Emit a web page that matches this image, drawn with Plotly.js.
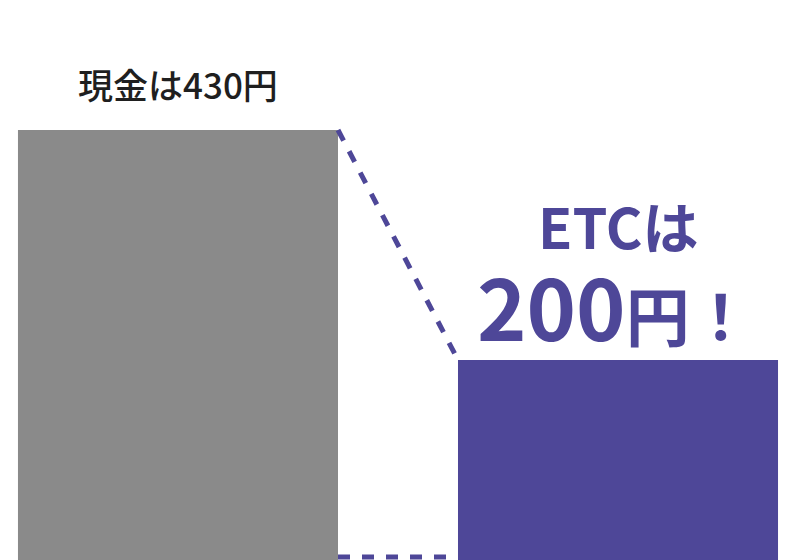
<!DOCTYPE html>
<html>
<head>
<meta charset="utf-8">
<script src="https://cdn.plot.ly/plotly-3.0.1.min.js"></script>
<style>
  html, body { margin: 0; padding: 0; background: #ffffff; }
  #chart { width: 800px; height: 560px; }
</style>
</head>
<body>
<div id="chart"></div>
<script>
// data
const categories = ['現金', 'ETC'];
const fares = [430, 200];
const barColors = ['#8a8a8a', '#4e4798'];
const labelTop = ['現金は430円', 'ETCは'];
const bigNumber = '200';
const bigUnit = '円';
const bigMark = '！';

const purple = '#4e4798';
const barWidth = 0.7273;

// connector from top-right of cash bar to top-left of ETC bar
const leftEdge = 0 + barWidth / 2;
const rightEdge = 1 - barWidth / 2;

var data = [
  {
    x: categories.map((c, i) => i),
    y: fares,
    type: 'bar',
    width: barWidth,
    marker: { color: barColors },
    hoverinfo: 'skip'
  },
  {
    x: [leftEdge, rightEdge],
    y: [fares[0], fares[1]],
    type: 'scatter',
    mode: 'lines',
    line: { color: purple, width: 5, dash: '12px,12px' },
    hoverinfo: 'skip'
  },
  {
    x: [leftEdge, rightEdge],
    y: [3, 3],
    type: 'scatter',
    mode: 'lines',
    line: { color: purple, width: 5, dash: '12px,12px' },
    hoverinfo: 'skip'
  }
];

var layout = {
  width: 800,
  height: 560,
  margin: { t: 0, b: 0, l: 0, r: 0 },
  paper_bgcolor: '#ffffff',
  plot_bgcolor: '#ffffff',
  showlegend: false,
  xaxis: {
    type: 'linear',
    range: [-0.4045, 1.4136],
    visible: false,
    fixedrange: true
  },
  yaxis: {
    range: [0, 560],
    visible: false,
    fixedrange: true
  },
  annotations: [
    {
      x: 0, y: fares[0],
      xref: 'x', yref: 'y',
      text: labelTop[0],
      showarrow: false,
      yanchor: 'middle',
      yshift: 47,
      font: { family: 'Noto Sans CJK JP', size: 35, color: '#1f1f1f', weight: 500 }
    },
    {
      x: 1, y: fares[1],
      xref: 'x', yref: 'y',
      text: labelTop[1],
      showarrow: false,
      yanchor: 'middle',
      yshift: 136,
      font: { family: 'Noto Sans CJK JP', size: 56, color: purple, weight: 'bold' }
    },
    {
      x: 1, y: fares[1],
      xref: 'x', yref: 'y',
      text: bigNumber + '<span style="font-size:64px">' + bigUnit + '</span>' +
            '<span style="font-size:62px">' + bigMark + '</span>',
      showarrow: false,
      yanchor: 'middle',
      xshift: -4,
      yshift: 56,
      font: { family: 'Noto Sans CJK JP', size: 84, color: purple, weight: 'bold' }
    }
  ]
};

Plotly.newPlot('chart', data, layout, { displayModeBar: false, staticPlot: true });
</script>
</body>
</html>
